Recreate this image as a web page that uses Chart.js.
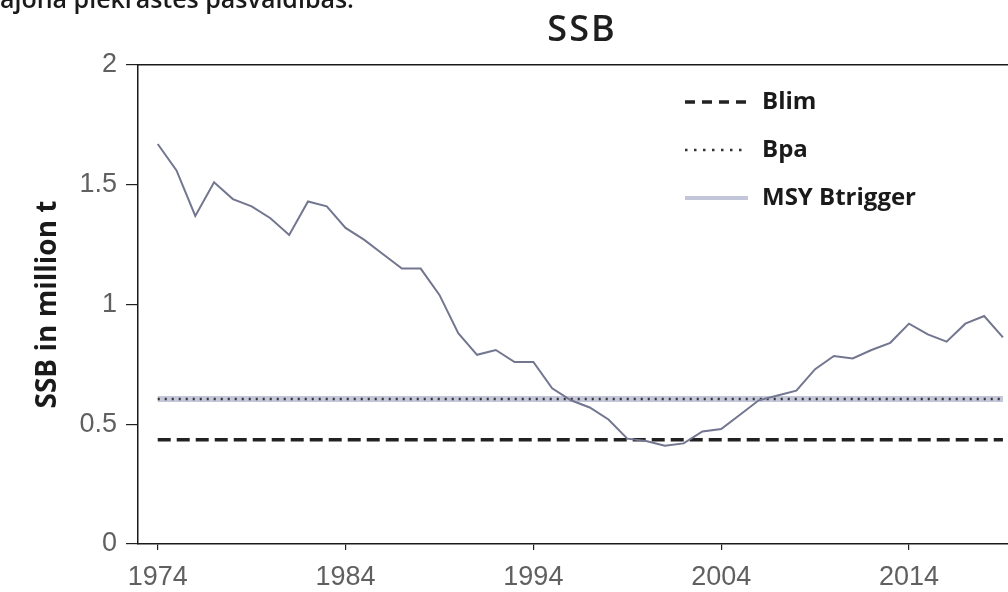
<!DOCTYPE html>
<html>
<head>
<meta charset="utf-8">
<script src="https://cdn.jsdelivr.net/npm/chart.js@4/dist/chart.umd.min.js"></script>
<style>
  html, body { margin: 0; padding: 0; background: #ffffff; }
  #wrap { width: 1008px; height: 592px; position: relative; }
</style>
</head>
<body>
<div id="wrap"><canvas id="c" width="1008" height="592"></canvas></div>
<script>
// ---- data ----
const years = [1974,1975,1976,1977,1978,1979,1980,1981,1982,1983,1984,1985,1986,1987,1988,1989,
  1990,1991,1992,1993,1994,1995,1996,1997,1998,1999,2000,2001,2002,2003,2004,2005,2006,2007,2008,
  2009,2010,2011,2012,2013,2014,2015,2016,2017,2018,2019];
const ssb = [1.67,1.56,1.37,1.51,1.44,1.41,1.36,1.29,1.43,1.41,1.32,1.27,1.21,1.15,1.15,1.04,
  0.88,0.79,0.81,0.76,0.76,0.65,0.60,0.57,0.52,0.44,0.43,0.41,0.42,0.47,0.48,0.54,0.60,0.62,0.64,
  0.73,0.785,0.775,0.81,0.84,0.92,0.875,0.845,0.92,0.952,0.863];
const refYears = [1974, 2019];
const blim = 0.435;
const bpa = 0.605;
const msyBtrigger = 0.605;
const xTickYears = [1974, 1984, 1994, 2004, 2014];
const yTickValues = [0, 0.5, 1, 1.5, 2];
const titleText = 'SSB';
const yAxisTitle = 'SSB in million t';
const headerText = 'ajona piekrastes pašvaldības.';

const toXY = (xs, ys) => xs.map((x, i) => ({ x: x, y: ys[i] }));
const flat = (v) => refYears.map(yr => ({ x: yr, y: v }));

// custom text + legend drawing
const decorations = {
  id: 'decorations',
  afterDraw(chart) {
    const ctx = chart.ctx;
    ctx.save();
    // clipped header line of surrounding document
    ctx.fillStyle = '#1a1a1a';
    ctx.font = '600 25px "Open Sans"';
    ctx.textAlign = 'left';
    ctx.textBaseline = 'alphabetic';
    ctx.fillText(headerText, 0, 8);
    // chart title
    ctx.fillStyle = '#1e1e1e';
    ctx.font = '600 36px "Open Sans"';
    try { ctx.letterSpacing = '2px'; } catch (e) {}
    ctx.textAlign = 'center';
    ctx.textBaseline = 'middle';
    ctx.fillText(titleText, 582, 31);
    try { ctx.letterSpacing = '0px'; } catch (e) {}
    // legend
    const items = chart.data.datasets.filter(d => d.inLegend);
    items.forEach((ds, i) => {
      const y = 102 + i * 48;
      ctx.save();
      ctx.strokeStyle = ds.legendColor || ds.borderColor;
      ctx.lineWidth = ds.legendWidth || ds.borderWidth;
      ctx.setLineDash(ds.legendDash || ds.borderDash || []);
      ctx.beginPath();
      ctx.moveTo(685, y);
      ctx.lineTo(748, y);
      ctx.stroke();
      ctx.restore();
      ctx.fillStyle = '#1a1a1a';
      ctx.font = 'bold 24px "Open Sans"';
      ctx.textAlign = 'left';
      ctx.textBaseline = 'middle';
      ctx.fillText(ds.label, 762, y);
    });
    ctx.restore();
  }
};

new Chart(document.getElementById('c'), {
  type: 'line',
  data: {
    datasets: [
      { label: 'SSB', data: toXY(years, ssb), borderColor: '#72768f', borderWidth: 2,
        pointRadius: 0, tension: 0, order: 0, inLegend: false },
      { label: 'Blim', data: flat(blim), borderColor: '#222222', borderWidth: 3.5,
        borderDash: [13, 6], legendDash: [10, 7], pointRadius: 0, order: 1, inLegend: true },
      { label: 'Bpa', data: flat(bpa), borderColor: '#333333', borderWidth: 2.5,
        borderDash: [2, 5], legendDash: [2.5, 6.5], pointRadius: 0, order: 2, inLegend: true },
      { label: 'MSY Btrigger', data: flat(msyBtrigger), borderColor: '#c3c6d9', borderWidth: 6,
        legendWidth: 4, pointRadius: 0, order: 3, inLegend: true }
    ]
  },
  options: {
    responsive: false,
    animation: false,
    layout: { padding: { left: 0, right: 0, top: 65, bottom: 0 } },
    plugins: { legend: { display: false }, tooltip: { enabled: false }, title: { display: false } },
    scales: {
      x: {
        type: 'linear', min: 1972.95, max: 2019.27,
        afterBuildTicks: (s) => { s.ticks = xTickYears.map(v => ({ value: v })); },
        afterFit: (s) => { s.height = 48; },
        grid: { drawOnChartArea: false, tickLength: 6, color: '#222', lineWidth: 1.2 },
        border: { display: true, color: '#1a1a1a', width: 1.5 },
        ticks: { color: '#606060', font: { family: 'Liberation Sans', size: 27 }, padding: 11,
                 maxRotation: 0, autoSkip: false, callback: (v) => String(v) }
      },
      xTop: {
        type: 'linear', position: 'top', min: 1972.95, max: 2019.27,
        afterFit: (s) => { s.height = 0; },
        grid: { display: false },
        border: { display: true, color: '#1a1a1a', width: 1.5 },
        ticks: { display: false }
      },
      y: {
        min: 0, max: 2,
        afterBuildTicks: (s) => { s.ticks = yTickValues.map(v => ({ value: v })); },
        afterFit: (s) => { s.width = 138; },
        grid: { drawOnChartArea: false, tickLength: 12, color: '#222', lineWidth: 1.2 },
        border: { display: true, color: '#1a1a1a', width: 1.5 },
        ticks: { color: '#606060', font: { family: 'Liberation Sans', size: 27 }, padding: 9,
                 callback: (v) => String(v) },
        title: { display: true, text: yAxisTitle, color: '#1a1a1a',
                 font: { family: 'Open Sans', size: 28, weight: 'bold' },
                 padding: { top: 31, bottom: 0 } }
      }
    }
  },
  plugins: [decorations]
});
</script>
</body>
</html>
